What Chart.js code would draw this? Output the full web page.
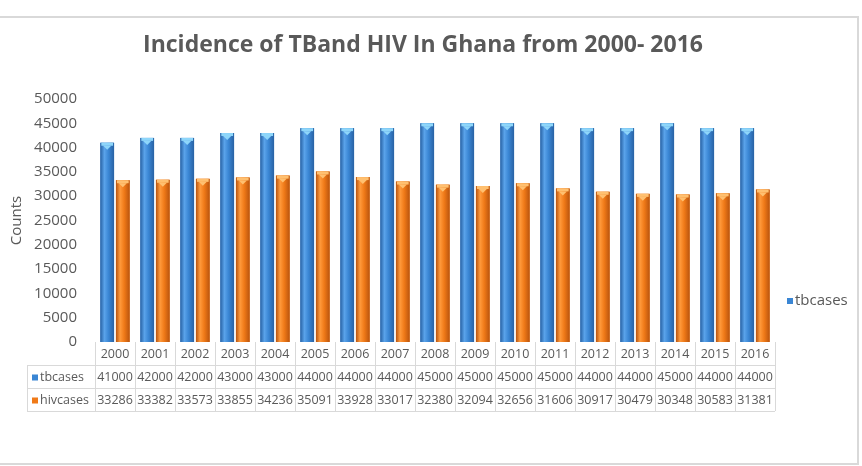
<!DOCTYPE html>
<html><head><meta charset="utf-8">
<script src="https://cdn.jsdelivr.net/npm/chart.js@4/dist/chart.umd.min.js"></script>
<style>
html,body{margin:0;padding:0;background:#fff;}
#wrap{position:relative;width:862px;height:466px;overflow:hidden;}
#frame{position:absolute;left:-2px;top:16px;width:857px;height:445px;border:2px solid #D9D9D9;pointer-events:none;}
canvas{position:absolute;left:0;top:0;}
</style></head><body>
<div id="wrap"><canvas id="c" width="862" height="466"></canvas><div id="frame"></div></div>
<script>
const categories = ['2000','2001','2002','2003','2004','2005','2006','2007','2008','2009','2010','2011','2012','2013','2014','2015','2016'];
const tbcases = [41000,42000,42000,43000,43000,44000,44000,44000,45000,45000,45000,45000,44000,44000,45000,44000,44000];
const hivcases = [33286,33382,33573,33855,34236,35091,33928,33017,32380,32094,32656,31606,30917,30479,30348,30583,31381];
const seriesNames = ['tbcases','hivcases'];
const yTicks = [0,5000,10000,15000,20000,25000,30000,35000,40000,45000,50000];
const titleText = 'Incidence of TBand HIV In Ghana from 2000- 2016';
const yTitle = 'Counts';

const TXT = '#595959';
const GRID = '#D9D9D9';
const FONT = '"Open Sans", sans-serif';
const styles = [
  {base:'#3A86D4', dark:'#2862A4', light:'#5AA3EA', cap:'#8ED6FA'},
  {base:'#F07A18', dark:'#B9540E', light:'#FF9A3C', cap:'#FFC070'}
];

const barLook = {
  id:'barLook',
  afterDatasetsDraw(chart){
    const ctx = chart.ctx;
    chart.data.datasets.forEach((ds, di) => {
      const meta = chart.getDatasetMeta(di);
      const s = styles[di];
      meta.data.forEach(el => {
        const p = el.getProps(['x','y','base','width'], true);
        const l = p.x - p.width/2, r = p.x + p.width/2;
        const g = ctx.createLinearGradient(l,0,r,0);
        g.addColorStop(0, s.dark);
        g.addColorStop(0.3, s.light);
        g.addColorStop(0.6, s.base);
        g.addColorStop(1, s.dark);
        ctx.save();
        ctx.fillStyle = g;
        ctx.fillRect(l, p.y, p.width, p.base - p.y);
        ctx.fillStyle = s.cap;
        ctx.fillRect(l+1, p.y, p.width-2, 3);
        ctx.beginPath();
        ctx.moveTo(p.x-4, p.y+3);
        ctx.lineTo(p.x+4, p.y+3);
        ctx.lineTo(p.x, p.y+7);
        ctx.closePath();
        ctx.fill();
        ctx.restore();
      });
    });
  }
};

const dataTable = {
  id:'dataTable',
  afterDraw(chart){
    const ctx = chart.ctx;
    const xs = chart.scales.x;
    const n = categories.length;
    const left = xs.left, right = xs.right;
    const cw = (right-left)/n;
    const top = chart.chartArea.bottom;
    const rows = [top, top+23, top+46, top+69];
    const labLeft = 27;
    ctx.save();
    // title
    ctx.fillStyle = TXT;
    ctx.font = 'bold 23px ' + FONT;
    ctx.textAlign = 'center';
    ctx.textBaseline = 'middle';
    ctx.fillText(titleText, 423, 45);

    ctx.strokeStyle = GRID;
    ctx.lineWidth = 1;
    ctx.beginPath();
    for (let i=0;i<=n;i++){
      const x = Math.round(left + i*cw) + 0.5;
      ctx.moveTo(x, top); ctx.lineTo(x, rows[3]);
    }
    ctx.moveTo(labLeft+0.5, rows[1]); ctx.lineTo(labLeft+0.5, rows[3]);
    for (let k=1;k<=3;k++){
      const y = Math.round(rows[k])+0.5;
      ctx.moveTo(labLeft, y); ctx.lineTo(right, y);
    }
    ctx.stroke();
    ctx.fillStyle = TXT;
    ctx.font = '12.5px ' + FONT;
    const series = [tbcases, hivcases];
    for (let i=0;i<n;i++){
      const cx = xs.getPixelForValue(i);
      ctx.fillText(categories[i], cx, (rows[0]+rows[1])/2 + 1);
      ctx.fillText(String(series[0][i]), cx, (rows[1]+rows[2])/2 + 1);
      ctx.fillText(String(series[1][i]), cx, (rows[2]+rows[3])/2 + 1);
    }
    ctx.textAlign = 'left';
    for (let k=0;k<2;k++){
      const cy = (rows[k+1]+rows[k+2])/2 + 1;
      ctx.fillStyle = styles[k].base;
      ctx.fillRect(32, cy-3, 6, 6);
      ctx.fillStyle = TXT;
      ctx.fillText(seriesNames[k], 40, cy);
    }
    // legend
    ctx.fillStyle = styles[0].base;
    ctx.fillRect(787, 298, 6, 6);
    ctx.fillStyle = TXT;
    ctx.font = '15px ' + FONT;
    ctx.fillText(chart.data.datasets[0].label, 795, 301);
    ctx.restore();
  }
};

new Chart(document.getElementById('c'), {
  type:'bar',
  data:{
    labels: categories,
    datasets:[
      {label:seriesNames[0], data:tbcases, backgroundColor:styles[0].base, categoryPercentage:0.78, barPercentage:0.88},
      {label:seriesNames[1], data:hivcases, backgroundColor:styles[1].base, categoryPercentage:0.78, barPercentage:0.88}
    ]
  },
  options:{
    responsive:false,
    animation:false,
    layout:{padding:{left:0,right:87,top:99,bottom:124}},
    plugins:{
      legend:{display:false},
      tooltip:{enabled:false},
      title:{display:false}
    },
    scales:{
      x:{display:false},
      y:{
        min:0, max:50000,
        afterBuildTicks(axis){ axis.ticks = yTicks.map(v=>({value:v})); },
        afterFit(scale){ scale.width = 95; },
        grid:{display:false, drawTicks:false},
        border:{display:false},
        ticks:{color:TXT, padding:18, font:{family:FONT, size:15}, callback:(v)=>String(v)},
        title:{display:true, text:yTitle, color:TXT, font:{family:FONT, size:15}, padding:{top:8,bottom:0}}
      }
    }
  },
  plugins:[barLook, dataTable]
});
</script>
</body></html>
